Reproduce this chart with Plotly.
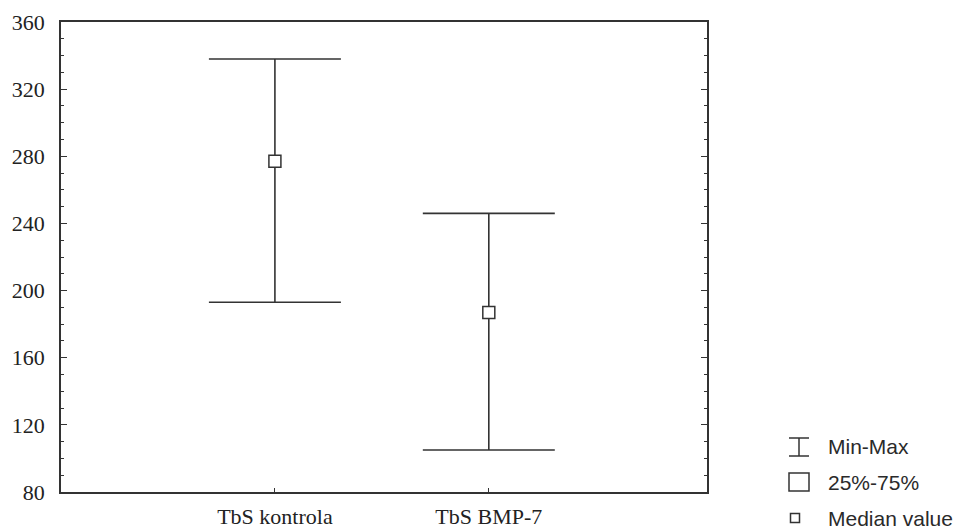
import plotly.graph_objects as go

categories = ["TbS kontrola", "TbS BMP-7"]
medians = [277, 187]
mins = [193, 105]
maxs = [338, 246]
y_ticks = [80, 120, 160, 200, 240, 280, 320, 360]
legend_labels = ["Min-Max", "25%-75%", "Median value"]

ink = "#333333"
W, H = 971, 529
L, R, T, B = 61, 264, 22, 37
pw, ph = W - L - R, H - T - B

def xp(px):
    return (px - L) / pw

def yp(py):
    return (H - B - py) / ph

fig = go.Figure()
fig.add_trace(go.Scatter(
    x=[0, 1], y=medians, mode="markers",
    marker=dict(symbol="square", size=12, color="white", line=dict(color=ink, width=1.5)),
    error_y=dict(type="data", symmetric=False,
                 array=[mx - md for mx, md in zip(maxs, medians)],
                 arrayminus=[md - mn for md, mn in zip(medians, mins)],
                 width=66, thickness=1.6, color=ink),
    showlegend=False, hoverinfo="skip",
))

fig.update_xaxes(
    range=[-1, 2.02], tickmode="array", tickvals=[0, 1], ticktext=categories,
    ticks="inside", ticklen=4, tickcolor=ink, showline=True, linecolor=ink, linewidth=1.5,
    mirror=True, showgrid=False, zeroline=False, automargin=False, ticklabelstandoff=4,
    tickfont=dict(family="Liberation Serif", size=22, color="#222222"),
)
fig.update_yaxes(
    range=[80, 360], tickmode="array", tickvals=y_ticks,
    ticks="inside", ticklen=6, tickcolor=ink, showline=True, linecolor=ink, linewidth=1.5,
    mirror="ticks", showgrid=False, zeroline=False, automargin=False, ticklabelstandoff=10,
    minor=dict(dtick=10, ticks="inside", ticklen=3, tickcolor=ink),
    tickfont=dict(family="Liberation Serif", size=22, color="#222222"),
)

shapes = []
lc = dict(color=ink, width=1.5)
# Min-Max icon
shapes.append(dict(type="line", xref="paper", yref="paper", x0=xp(799), x1=xp(799), y0=yp(438), y1=yp(456), line=lc))
shapes.append(dict(type="line", xref="paper", yref="paper", x0=xp(789), x1=xp(809), y0=yp(438), y1=yp(438), line=lc))
shapes.append(dict(type="line", xref="paper", yref="paper", x0=xp(789), x1=xp(809), y0=yp(456), y1=yp(456), line=lc))
# 25%-75% icon
shapes.append(dict(type="rect", xref="paper", yref="paper", x0=xp(789), x1=xp(809), y0=yp(473), y1=yp(491), line=lc))
# Median icon
shapes.append(dict(type="rect", xref="paper", yref="paper", x0=xp(790.5), x1=xp(799.5), y0=yp(513.5), y1=yp(522.5), line=lc))

annotations = []
for lab, ycen in zip(legend_labels, [446, 482, 518]):
    annotations.append(dict(text=lab, xref="paper", yref="paper", x=xp(826), y=yp(ycen),
                            xanchor="left", yanchor="middle", showarrow=False,
                            font=dict(family="Liberation Sans", size=21, color="#2a2a2a")))

fig.update_layout(
    width=W, height=H, margin=dict(l=L, r=R, t=T, b=B),
    plot_bgcolor="white", paper_bgcolor="white",
    shapes=shapes, annotations=annotations, showlegend=False,
)
fig.write_html("out.html", config={"displayModeBar": False},
               post_script="document.body.style.margin='0';document.body.style.overflow='hidden';")
